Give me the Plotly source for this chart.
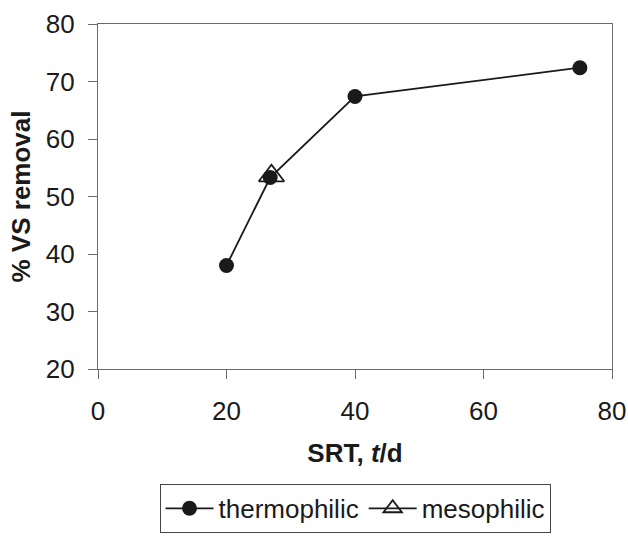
import plotly.graph_objects as go

thermo_srt = [20, 26.8, 40, 75]
thermo_vs = [38, 53.3, 67.4, 72.4]
meso_srt = [27]
meso_vs = [53.6]

x_ticks = [0, 20, 40, 60, 80]
y_ticks = [20, 30, 40, 50, 60, 70, 80]

FONT = "Liberation Sans, Arial, sans-serif"
INK = "#1a1a1a"
AXIS = "#6b6b6b"

fig = go.Figure()
fig.add_trace(go.Scatter(
    x=thermo_srt, y=thermo_vs, mode="lines+markers", name="thermophilic",
    line=dict(color=INK, width=1.8),
    marker=dict(symbol="circle", size=15, color=INK),
))
fig.add_trace(go.Scatter(
    x=meso_srt, y=meso_vs, mode="lines+markers", name="mesophilic",
    line=dict(color=INK, width=1.8),
    marker=dict(symbol="triangle-up-open", size=22, color=INK, line=dict(width=1.8, color=INK)),
))

fig.update_layout(
    width=628, height=536,
    margin=dict(l=98, r=16, t=24, b=167, autoexpand=False),
    paper_bgcolor="white", plot_bgcolor="white",
    font=dict(family=FONT, size=26, color=INK),
    showlegend=True,
    legend=dict(
        orientation="h", x=0.5, xanchor="center", y=-0.475, yanchor="bottom",
        bordercolor="#444", borderwidth=1, font=dict(size=26),
        itemsizing="trace", tracegroupgap=0, itemwidth=48,
    ),
)
fig.update_xaxes(
    range=[0, 80], tickvals=x_ticks, ticks="outside", ticklen=9, tickcolor=AXIS,
    showline=True, linecolor=AXIS, linewidth=1.2, mirror=True, showgrid=False, zeroline=False,
    ticklabelstandoff=10, automargin=False,
    tickfont=dict(size=26),
    title=dict(text="<b>SRT, <i>t</i>/d</b>", font=dict(size=26), standoff=18),
)
fig.update_yaxes(
    range=[20, 80], tickvals=y_ticks, ticks="outside", ticklen=9, tickcolor=AXIS,
    showline=True, linecolor=AXIS, linewidth=1.2, mirror=True, showgrid=False, zeroline=False,
    ticklabelstandoff=8, automargin=False,
    tickfont=dict(size=26),
    title=dict(text="<b>% VS removal</b>", font=dict(size=26), standoff=7),
)

fig.write_html(
    "out.html",
    config={"displayModeBar": False},
    post_script="document.body.style.margin='0';document.body.style.overflow='hidden';",
)
